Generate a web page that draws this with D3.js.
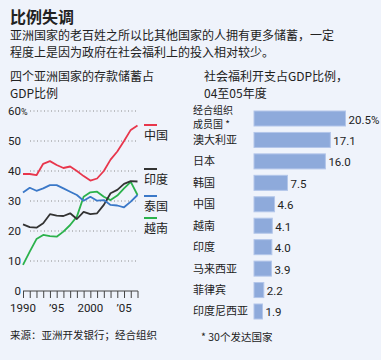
<!DOCTYPE html>
<html><head><meta charset="utf-8">
<script src="https://cdn.jsdelivr.net/npm/d3@7"></script>
<style>
html,body{margin:0;padding:0;background:#eff3fb;}
svg{display:block;font-family:"Noto Sans CJK SC","Noto Sans",sans-serif;}
</style></head>
<body><svg id="c" width="381" height="360"></svg>
<script>
// ---- data ----
const years = d3.range(1990, 2008);
const chinaSave   = [39, 39, 38.6, 42.4, 43.3, 42, 41, 41.5, 40, 38.3, 36.8, 37.5, 40, 43.8, 46.5, 50, 53.7, 55.2];
const indiaSave   = [22.2, 21.3, 21.1, 22.6, 25.6, 25.1, 25, 25.9, 24, 26.4, 25.6, 25.9, 28.7, 32.6, 33.7, 35.7, 36.6, 36.5];
const thaiSave    = [32.8, 34.4, 33.4, 34.2, 35.3, 35.3, 34.2, 33.1, 32, 30.1, 31.4, 30.1, 30.3, 28.7, 28.5, 27.9, 29.8, 32];
const vietSave    = [8.7, 13.1, 17.3, 18.7, 18.3, 18.1, 19.8, 22, 24.8, 31.4, 32.9, 33.1, 31.4, 30.3, 31.8, 34.2, 36.4, 32];
const seriesNames = ["中国", "印度", "泰国", "越南"];
const seriesColors = ["#e8364c", "#333333", "#3a78c8", "#2bb24c"];
const yTicks = [0, 10, 20, 30, 40, 50, 60];
const xTickLabels = [[1990, "1990"], [1995, "’95"], [2000, "2000"], [2005, "’05"]];

const welfareCats = ["经合组织|成员国 *", "澳大利亚", "日本", "韩国", "中国", "越南", "印度", "马来西亚", "菲律宾", "印度尼西亚"];
const welfareVals = [20.5, 17.1, 16.0, 7.5, 4.6, 4.1, 4.0, 3.9, 2.2, 1.9];

const svg = d3.select("#c");
const txt = "#222";

// ---- titles ----
svg.append("text").attr("x", 10).attr("y", 23).attr("font-size", 16).attr("font-weight", "bold").attr("fill", txt).text("比例失调");
svg.append("text").attr("x", 10).attr("y", 40).attr("font-size", 12).attr("fill", txt).text("亚洲国家的老百姓之所以比其他国家的人拥有更多储蓄，一定");
svg.append("text").attr("x", 10).attr("y", 57).attr("font-size", 12).attr("fill", txt).text("程度上是因为政府在社会福利上的投入相对较少。");

svg.append("text").attr("x", 10).attr("y", 80.5).attr("font-size", 12).attr("fill", txt).text("四个亚洲国家的存款储蓄占");
svg.append("text").attr("x", 10).attr("y", 98).attr("font-size", 12).attr("fill", txt).text("GDP比例");
svg.append("text").attr("x", 204).attr("y", 80.5).attr("font-size", 12).attr("fill", txt).text("社会福利开支占GDP比例，");
svg.append("text").attr("x", 204).attr("y", 98).attr("font-size", 12).attr("fill", txt).text("04至05年度");

// ---- line chart ----
const x = d3.scaleLinear().domain([1990, 2007]).range([23, 137.5]);
const y = d3.scaleLinear().domain([0, 60]).range([291, 111]);

const grid = svg.append("g");
yTicks.filter(t => t > 0).forEach(t => {
  grid.append("line").attr("x1", 30).attr("x2", 138).attr("y1", y(t)).attr("y2", y(t))
    .attr("stroke", "#8a8a8a").attr("stroke-width", 1).attr("stroke-dasharray", "1,2.5");
});
yTicks.forEach(t => {
  svg.append("text").attr("x", 21).attr("y", y(t) + 4).attr("text-anchor", "end")
    .attr("font-size", 11.5).attr("font-family", "Liberation Sans Narrow, Roboto, sans-serif").attr("fill", txt).text(t);
  if (t === 60) svg.append("text").attr("x", 21).attr("y", y(t) + 4).attr("font-size", 9)
    .attr("font-family", "Liberation Sans Narrow, Roboto, sans-serif").attr("fill", txt).text("%");
});

const xAxis = d3.axisBottom(x).tickValues(years).tickSize(7).tickFormat("");
const ax = svg.append("g").attr("transform", "translate(0,291)").call(xAxis);
ax.select(".domain").attr("stroke", "#444").attr("d", "M23,0H138");
ax.selectAll(".tick line").attr("stroke", "#444");
xTickLabels.forEach(([yr, lab]) => {
  svg.append("text").attr("x", x(yr)).attr("y", 312).attr("text-anchor", "middle")
    .attr("font-size", 11.5).attr("font-family", "Roboto, sans-serif").attr("fill", txt).text(lab);
});

const lineGen = d3.line().x((d, i) => x(years[i])).y(d => y(d));
const allSeries = [chinaSave, indiaSave, thaiSave, vietSave];
const drawOrder = [3, 1, 2, 0];
drawOrder.forEach(i => {
  svg.append("path").datum(allSeries[i]).attr("d", lineGen).attr("fill", "none")
    .attr("stroke", seriesColors[i]).attr("stroke-width", 1.8).attr("stroke-linejoin", "round");
});

// legend
const legY = [125, 169, 196, 218];
seriesNames.forEach((n, i) => {
  svg.append("line").attr("x1", 144).attr("x2", 157).attr("y1", legY[i]).attr("y2", legY[i])
    .attr("stroke", seriesColors[i]).attr("stroke-width", 2);
  svg.append("text").attr("x", 144).attr("y", legY[i] + 15).attr("font-size", 12).attr("fill", txt).text(n);
});

svg.append("text").attr("x", 10).attr("y", 339).attr("font-size", 10.5).attr("fill", txt).text("来源：亚洲开发银行；经合组织");

// ---- bar chart ----
const xb = d3.scaleLinear().domain([0, 20.5]).range([254, 345.5]);
const yb = d3.scaleBand().domain(welfareCats).range([111, 319]).paddingInner(0.3).paddingOuter(0.0);

welfareCats.forEach((c, i) => {
  const v = welfareVals[i];
  svg.append("rect").attr("x", xb(0)).attr("y", yb(c)).attr("width", xb(v) - xb(0)).attr("height", yb.bandwidth())
    .attr("fill", "#8eaadb").attr("stroke", "#b3c6ea").attr("stroke-width", 1);
  const lab = i === 0 ? v.toFixed(1) + "%" : v.toFixed(1);
  svg.append("text").attr("x", xb(v) + 3).attr("y", yb(c) + yb.bandwidth() / 2 + 5)
    .attr("font-size", 11.5).attr("font-family", "Liberation Sans Narrow, Roboto, sans-serif").attr("fill", txt).text(lab);
  const parts = c.split("|");
  if (parts.length === 2) {
    svg.append("text").attr("x", 193).attr("y", yb(c) + 2.5).attr("font-size", 10).attr("fill", txt).text(parts[0]);
    svg.append("text").attr("x", 193).attr("y", yb(c) + 17).attr("font-size", 10).attr("fill", txt).text(parts[1]);
  } else {
    svg.append("text").attr("x", 193).attr("y", yb(c) + yb.bandwidth() / 2 + 4).attr("font-size", 11).attr("fill", txt).text(c);
  }
});

svg.append("text").attr("x", 201).attr("y", 341).attr("font-size", 10.5).attr("fill", txt).text("* 30个发达国家");
</script></body></html>
